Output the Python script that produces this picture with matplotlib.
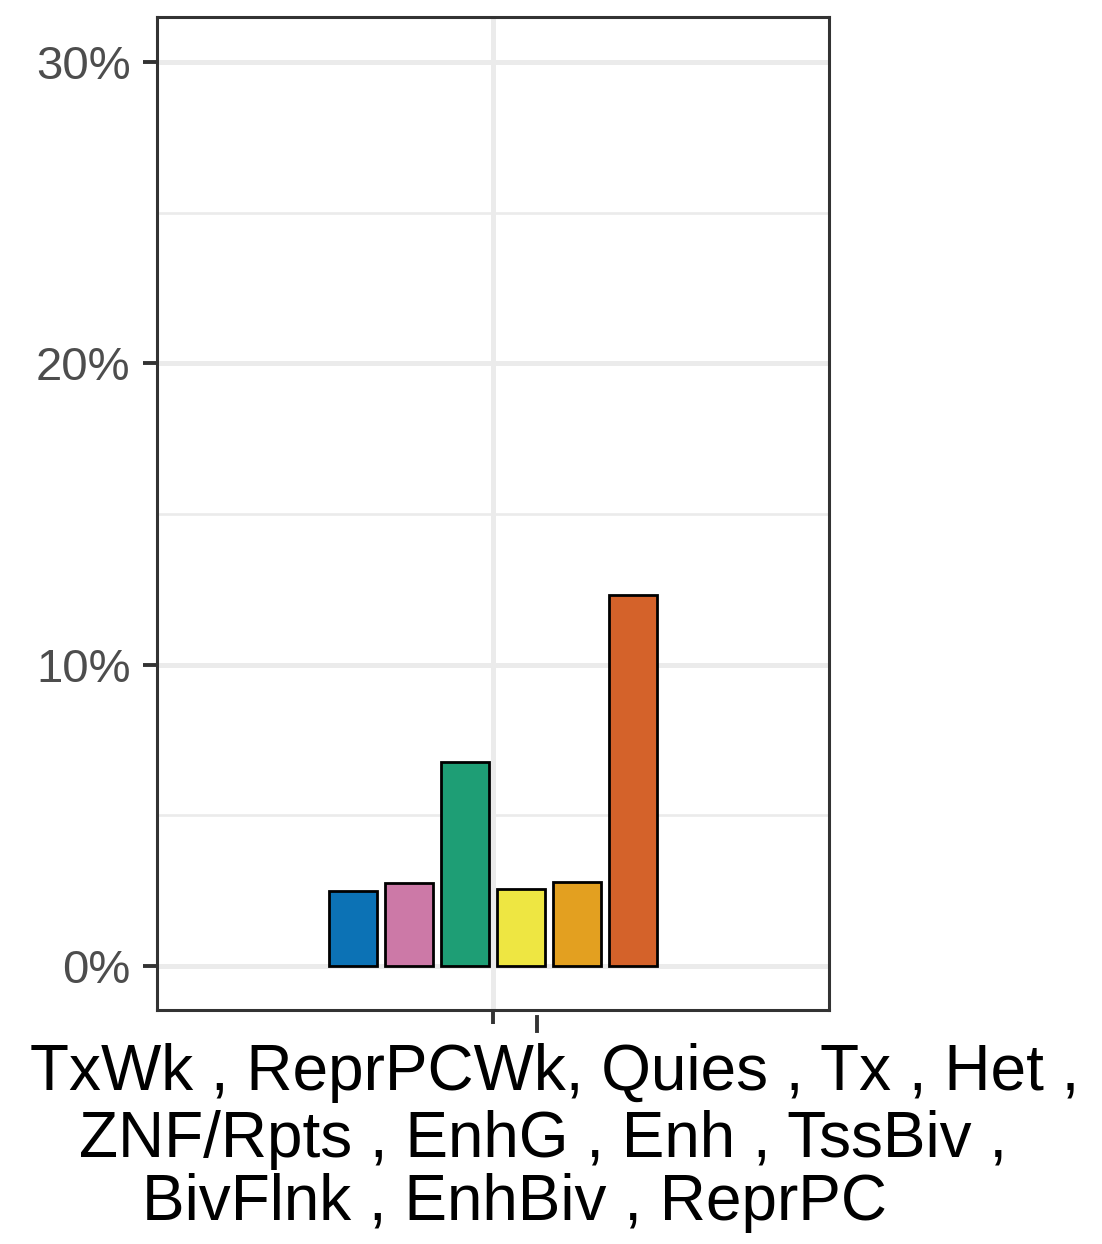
import numpy as np
import matplotlib
matplotlib.use("Agg")
import matplotlib.pyplot as plt
from matplotlib.ticker import FuncFormatter, MultipleLocator
from matplotlib.lines import Line2D

plt.rcParams['font.family'] = ['Liberation Sans', 'DejaVu Sans']

# data (percent of regions per chromatin state)
states = ['s1', 's2', 's3', 's4', 's5', 's6']
values = [2.49, 2.76, 6.76, 2.56, 2.80, 12.31]
colors = ['#0C72B5', '#CC79A7', '#1E9E75', '#EEE642', '#E3A020', '#D4622A']
label_lines = ['TxWk , ReprPCWk, Quies , Tx , Het ,',
               'ZNF/Rpts , EnhG , Enh , TssBiv ,',
               'BivFlnk , EnhBiv , ReprPC']

W, H = 1102, 1244
fig = plt.figure(figsize=(W / 100, H / 100), dpi=100)
ax = fig.add_axes([157 / W, 1 - 1010 / H, 672 / W, 993 / H])

slot = 0.1
bar_w = 0.086
n = len(values)
xs = 1 + (np.arange(n) - (n - 1) / 2) * slot
ax.bar(xs, values, width=bar_w, color=colors, edgecolor='black',
       linewidth=2.0, zorder=3)

ax.set_xlim(0.4, 1.6)
ax.set_ylim(-1.46, 31.5)

ax.yaxis.set_major_locator(MultipleLocator(10))
ax.yaxis.set_minor_locator(MultipleLocator(5))
ax.yaxis.set_major_formatter(FuncFormatter(lambda v, p: f'{v:.0f}%'))
ax.set_xticks([1])
ax.set_xticklabels([''])

ax.grid(which='major', color='#EBEBEB', linewidth=3.6, zorder=0)
ax.grid(which='minor', axis='y', color='#EBEBEB', linewidth=1.9, zorder=0)
ax.set_axisbelow(True)

for s in ax.spines.values():
    s.set_color('#333333')
    s.set_linewidth(2.2)

ax.tick_params(axis='both', which='major', length=10, width=2.8,
               color='#333333', labelsize=34, labelcolor='#4D4D4D', pad=9)
ax.tick_params(axis='y', which='minor', length=0)

# stray second tick mark below the axis
ax.add_line(Line2D([1.079, 1.079], [-0.007, -0.021],
                   transform=ax.get_xaxis_transform(), color='#333333',
                   linewidth=2.8, clip_on=False))

# multi-line x label
centers = [555, 543, 515]
baselines = [1090, 1157, 1220]
for txt, cx, by in zip(label_lines, centers, baselines):
    fig.text(cx / W, 1 - by / H, txt, ha='center', va='baseline',
             fontsize=46, color='black')

fig.savefig('out.png', dpi=100)
